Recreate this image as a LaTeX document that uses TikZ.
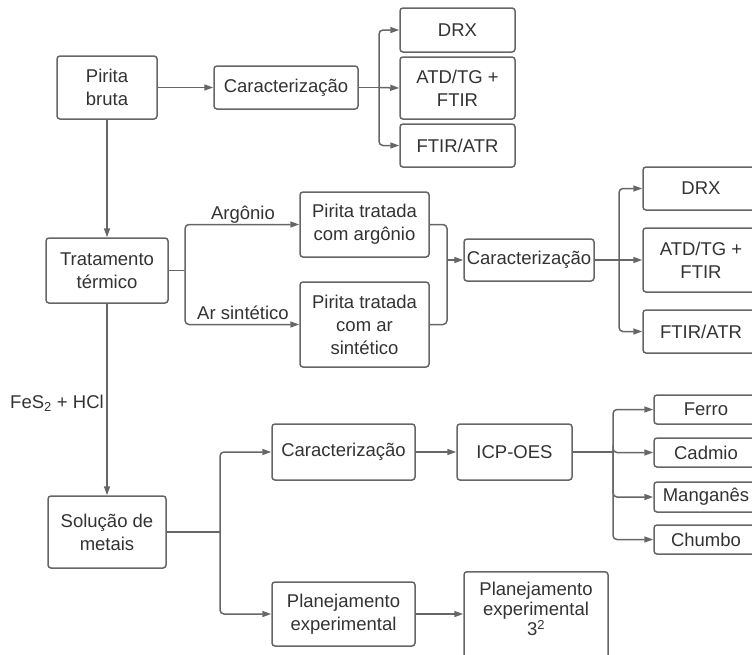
\documentclass[tikz,border=0pt]{standalone}
\usepackage{fontspec}
\setmainfont{Liberation Sans}
\usetikzlibrary{arrows.meta}
\definecolor{lc}{HTML}{666666}
\definecolor{tc}{HTML}{333333}
\begin{document}
\begin{tikzpicture}[x=1pt,y=-1pt,
  font=\fontsize{18.5}{23}\selectfont,
  box/.style={draw=lc, line width=1.5pt, rounded corners=3pt, fill=white, text=tc, align=center, inner sep=0pt},
  conn/.style={draw=lc, line width=1.5pt, rounded corners=4pt},
  arr/.style={conn, -{Triangle[length=9pt,width=6pt]}},
  lbl/.style={text=tc, inner sep=0pt}]
\useasboundingbox (0,0) rectangle (752,654);
\clip (0,0) rectangle (752,654);

% top row
\node[box, minimum width=100, minimum height=63] (pb) at (107,87.5) {Pirita\\bruta};
\node[box, minimum width=144, minimum height=43] (car1) at (286,87.5) {Caracterização};
\node[box, minimum width=115, minimum height=44] (drx1) at (457.5,30) {DRX};
\node[box, minimum width=115, minimum height=62] (atd1) at (457.5,88) {ATD/TG +\\FTIR};
\node[box, minimum width=115, minimum height=43] (ftr1) at (457.5,145.5) {FTIR/ATR};

% second row
\node[box, minimum width=122, minimum height=65] (tt) at (107,270.5) {Tratamento\\térmico};
\node[box, minimum width=129, minimum height=65] (pta) at (364.5,224.5) {Pirita tratada\\com argônio};
\node[box, minimum width=129, minimum height=85] (ptr) at (364.5,324.5) {Pirita tratada\\com ar\\sintético};
\node[box, minimum width=130, minimum height=42] (car2) at (529,260) {Caracterização};
\node[box, minimum width=116, minimum height=43] (drx2) at (701,188.5) {DRX};
\node[box, minimum width=116, minimum height=64] (atd2) at (701,260) {ATD/TG +\\FTIR};
\node[box, minimum width=116, minimum height=43] (ftr2) at (701,331.5) {FTIR/ATR};

% third row
\node[box, minimum width=118, minimum height=72] (sm) at (107,532) {Solução de\\metais};
\node[box, minimum width=143, minimum height=56] (car3) at (343.5,452) {Caracterização};
\node[box, minimum width=143, minimum height=64] (pl) at (343.5,614) {Planejamento\\experimental};
\node[box, minimum width=115, minimum height=56] (icp) at (514.5,452) {ICP-OES};
\node[box, minimum width=144, minimum height=100, anchor=north] (pe3) at (536,571) {};
\node[lbl, align=center, font=\fontsize{18.5}{20}\selectfont] (pe3t) at (536,609) {Planejamento\\experimental\\3\textsuperscript{2}};
\node[box, minimum width=104, minimum height=29] (fe) at (706,409.5) {Ferro};
\node[box, minimum width=104, minimum height=29] (cd) at (706,452.5) {Cadmio};
\node[box, minimum width=104, minimum height=30] (mn) at (706,497) {Manganês};
\node[box, minimum width=104, minimum height=29] (ch) at (706,539.5) {Chumbo};

% labels
\node[lbl, anchor=base] (largon) at (243,219) {Argônio};
\node[lbl, anchor=base] (lar) at (243,319) {Ar sintético};
\node[lbl, anchor=base west] (lfes) at (10,408) {FeS\textsubscript{2} + HCl};

% junctions
\coordinate (j1) at (379,87.5);
\coordinate (j2) at (185,270.5);
\coordinate (j3) at (447,260);
\coordinate (j4) at (619,260);
\coordinate (j5) at (220,532);
\coordinate (j6) at (613,452);

% connectors
\draw[arr] (pb) -- (car1);
\draw[conn] (car1.east) -- (j1);
\draw[arr] (j1) |- (drx1.west);
\draw[arr] (j1) -- (atd1.west);
\draw[arr] (j1) |- (ftr1.west);

\draw[arr] (pb) -- (tt);
\draw[conn] (tt.east) -- (j2);
\draw[arr] (j2) |- (pta.west);
\draw[arr] (j2) |- (ptr.west);
\draw[conn] (pta.east) -| (j3);
\draw[conn] (ptr.east) -| (j3);
\draw[arr] (j3) -- (car2.west);
\draw[conn] (car2.east) -- (j4);
\draw[arr] (j4) |- (drx2.west);
\draw[arr] (j4) -- (atd2.west);
\draw[arr] (j4) |- (ftr2.west);

\draw[arr] (tt) -- (sm);
\draw[conn] (sm.east) -- (j5);
\draw[arr] (j5) |- (car3.west);
\draw[arr] (j5) |- (pl.west);
\draw[arr] (car3) -- (icp);
\draw[arr] (pl.east) -- (pl.east -| pe3.west);
\draw[conn] (icp.east) -- (j6);
\draw[arr] (j6) |- (fe.west);
\draw[arr] (j6) |- (cd.west);
\draw[arr] (j6) |- (mn.west);
\draw[arr] (j6) |- (ch.west);
\end{tikzpicture}
\end{document}
